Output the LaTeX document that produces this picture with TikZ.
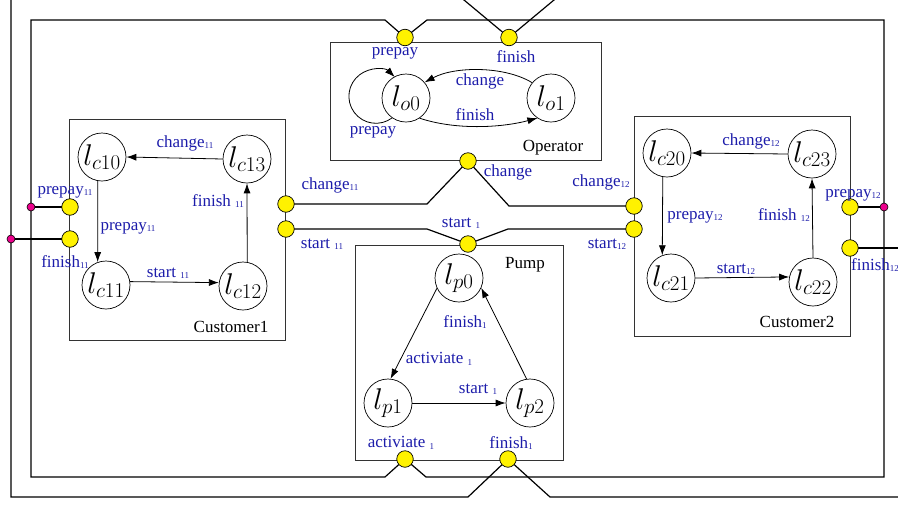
\RequirePackage{fix-cm}
\documentclass[tikz,border=0pt]{standalone}
\usepackage[no-math]{fontspec}
\newfontfamily\lblfont{Liberation Serif}
\usetikzlibrary{arrows.meta,backgrounds}
\definecolor{lblblue}{RGB}{28,28,170}
\newcommand\subidx[1]{\raisebox{-1.5pt}{\fontsize{9}{9}\selectfont #1}}

\begin{document}
\begin{tikzpicture}[x=1pt, y=-1pt,
  loc/.style={circle, draw=black, line width=0.7pt, minimum size=48pt, inner sep=0pt,
              font=\fontsize{30}{32}\selectfont},
  box/.style={draw=black!80, line width=0.9pt, outer sep=0pt, anchor=north west},
  wire/.style={draw=black, line width=1.2pt, line join=miter},
  port/.style={circle, draw=black, line width=0.7pt, fill=yellow, minimum size=16.5pt, inner sep=0pt},
  joint/.style={circle, draw=black, line width=0.6pt, fill=magenta, minimum size=8pt, inner sep=0pt},
  trans/.style={draw=black, line width=0.8pt, -{Latex[length=10pt,width=7pt]}},
  lab/.style={text=lblblue, font=\lblfont\fontsize{17}{19}\selectfont, inner sep=0pt},
  boxtitle/.style={text=black, font=\lblfont\fontsize{17}{19}\selectfont, inner sep=0pt}]

\useasboundingbox (0,0) rectangle (898,504);

% component boxes
\node[box, minimum width=271pt, minimum height=118pt] (operator) at (330,42) {};
\node[box, minimum width=216pt, minimum height=221pt] (customer1) at (69,119) {};
\node[box, minimum width=216pt, minimum height=220pt] (customer2) at (634,116) {};
\node[box, minimum width=208pt, minimum height=215pt] (pump) at (355,245) {};

% locations
\node[loc] (o0) at (406,98) {$l_{o0}$};
\node[loc] (o1) at (551,98) {$l_{o1}$};
\node[loc] (c10) at (102,157) {$l_{c10}$};
\node[loc] (c13) at (247,159) {$l_{c13}$};
\node[loc] (c11) at (106,285) {$l_{c11}$};
\node[loc] (c12) at (243,286) {$l_{c12}$};
\node[loc] (c20) at (667,153) {$l_{c20}$};
\node[loc] (c23) at (812,154) {$l_{c23}$};
\node[loc] (c21) at (671,278) {$l_{c21}$};
\node[loc] (c22) at (813,282) {$l_{c22}$};
\node[loc] (p0) at (459,278) {$l_{p0}$};
\node[loc] (p1) at (388,403) {$l_{p1}$};
\node[loc] (p2) at (530,403) {$l_{p2}$};

% transitions
\draw[trans] (o0.-125) arc[start angle=53.3, end angle=314.4, radius=27];
\draw[trans] (o1.141) .. controls (505,66) and (455,66) .. (o0.40);
\draw[trans] (o0.-56) .. controls (455,130) and (500,128) .. (o1.-124);
\draw[trans] (c13.west) -- (c10.east);
\draw[trans] (c10.-100) -- (c11.110);
\draw[trans] (c11.8) -- (c12.172);
\draw[trans] (c12.80) -- (c13.-90);
\draw[trans] (c23.west) -- (c20.east);
\draw[trans] (c20.-100) -- (c21.111);
\draw[trans] (c21.east) -- (c22.168);
\draw[trans] (c22.north) -- (c23.south);
\draw[trans] (p0.205) -- (p1.84);
\draw[trans] (p1.east) -- (p2.west);
\draw[trans] (p2.98) -- (p0.-24);

% ports
\node[port] (opre) at (405,37.5) {};
\node[port] (ofin) at (509,37.5) {};
\node[port] (ochg) at (468,161) {};
\node[port] (pstart) at (468,244) {};
\node[port] (pact) at (405,459) {};
\node[port] (pfin) at (508,459) {};
\node[port] (c1pre) at (70,207) {};
\node[port] (c1fin) at (70,239) {};
\node[port] (c1chg) at (286,204) {};
\node[port] (c1start) at (286,229) {};
\node[port] (c2chg) at (634,206) {};
\node[port] (c2start) at (634,229) {};
\node[port] (c2pre) at (850,207) {};
\node[port] (c2fin) at (850,248) {};
\node[joint] (j1) at (31,207) {};
\node[joint] (j2) at (11,239) {};
\node[joint] (j3) at (884,207) {};

% channels
\begin{pgfonlayer}{background}
  \coordinate (oTa) at (452,-10);
  \coordinate (oTL) at (11,-10);
  \coordinate (oBL) at (11,497);
  \coordinate (oBa) at (468,497);
  \coordinate (oBb) at (550,497);
  \coordinate (oBR) at (906,497);
  \coordinate (oTR) at (906,-10);
  \coordinate (oTb) at (566,-10);
  \coordinate (oR) at (906,248);
  \coordinate (iTa) at (385,20);
  \coordinate (iTL) at (31,20);
  \coordinate (iBL) at (31,477);
  \coordinate (iBa) at (385,477);
  \coordinate (iBb) at (426,477);
  \coordinate (iBR) at (884,477);
  \coordinate (iTR) at (884,20);
  \coordinate (iTb) at (427,20);
  \coordinate (cA) at (427,204);
  \coordinate (cB) at (509,206);
  \coordinate (sA) at (427,229);
  \coordinate (sB) at (508,229);
  \draw[wire] (oTa) -- (oTL) -- (oBL) -- (oBa) -- (pfin.center) -- (oBb) -- (oBR)
              -- (oTR) -- (oTb) -- (ofin.center) -- cycle;
  \draw[wire] (iTa) -- (iTL) -- (iBL) -- (iBa) -- (pact.center) -- (iBb) -- (iBR)
              -- (iTR) -- (iTb) -- (opre.center) -- cycle;
  \draw[wire] (c1chg.center) -- (cA) -- (ochg.center) -- (cB) -- (c2chg.center);
  \draw[wire] (c1start.center) -- (sA) -- (pstart.center) -- (sB) -- (c2start.center);
  \draw[wire] (j1.center) -- (c1pre.center);
  \draw[wire] (j2.center) -- (c1fin.center);
  \draw[wire] (c2pre.center) -- (j3.center);
  \draw[wire] (c2fin.center) -- (oR);
\end{pgfonlayer}

% operator labels
\node[lab] (t-opre) at (395,53) {prepay};
\node[lab] (t-ofin) at (516,57) {finish};
\node[lab] (t-oloop) at (373,132) {prepay};
\node[lab] (t-ochange) at (480,81) {change};
\node[lab] (t-ofinish) at (475,115) {finish};
\node[boxtitle] (t-operator) at (553,148) {Operator};
\node[lab] (t-ochg) at (508,172) {change};

% channel labels
\node[lab] (t-c1chg) at (330,185) {change\subidx{11}};
\node[lab] (t-c1start) at (322,244) {start \subidx{11}};
\node[lab] (t-c2chg) at (601,182) {change\subidx{12}};
\node[lab] (t-c2start) at (607,244) {start\subidx{12}};
\node[lab] (t-pstart) at (461,223) {start \subidx{1}};

% customer 1
\node[lab] (t-c13c10) at (185,143) {change\subidx{11}};
\node[lab] (t-c10c11) at (128,228) {prepay\subidx{11}};
\node[lab] (t-c12c13) at (218,201) {finish \subidx{11}};
\node[lab] (t-c11c12) at (168,273) {start \subidx{11}};
\node[boxtitle] (t-customer1) at (231,327) {Customer1};
\node[lab] (t-c1pre) at (65,192) {prepay\subidx{11}};
\node[lab] (t-c1fin) at (65,262) {finish\subidx{11}};

% customer 2
\node[lab] (t-c23c20) at (751,141) {change\subidx{12}};
\node[lab] (t-c20c21) at (695,217) {prepay\subidx{12}};
\node[lab] (t-c21c22) at (736,269) {start\subidx{12}};
\node[lab] (t-c22c23) at (784,215) {finish \subidx{12}};
\node[boxtitle] (t-customer2) at (797,322) {Customer2};
\node[lab] (t-c2pre) at (853,195) {prepay\subidx{12}};
\node[lab, anchor=west] (t-c2fin) at (851,265) {finish\subidx{12}};

% pump
\node[boxtitle] (t-pump) at (525,265) {Pump};
\node[lab] (t-p2p0) at (465,322) {finish\subidx{1}};
\node[lab] (t-p0p1) at (439,359) {activiate \subidx{1}};
\node[lab] (t-p1p2) at (478,389) {start \subidx{1}};
\node[lab] (t-pact) at (401,443) {activiate \subidx{1}};
\node[lab] (t-pfin) at (511,443) {finish\subidx{1}};
\end{tikzpicture}
\end{document}
